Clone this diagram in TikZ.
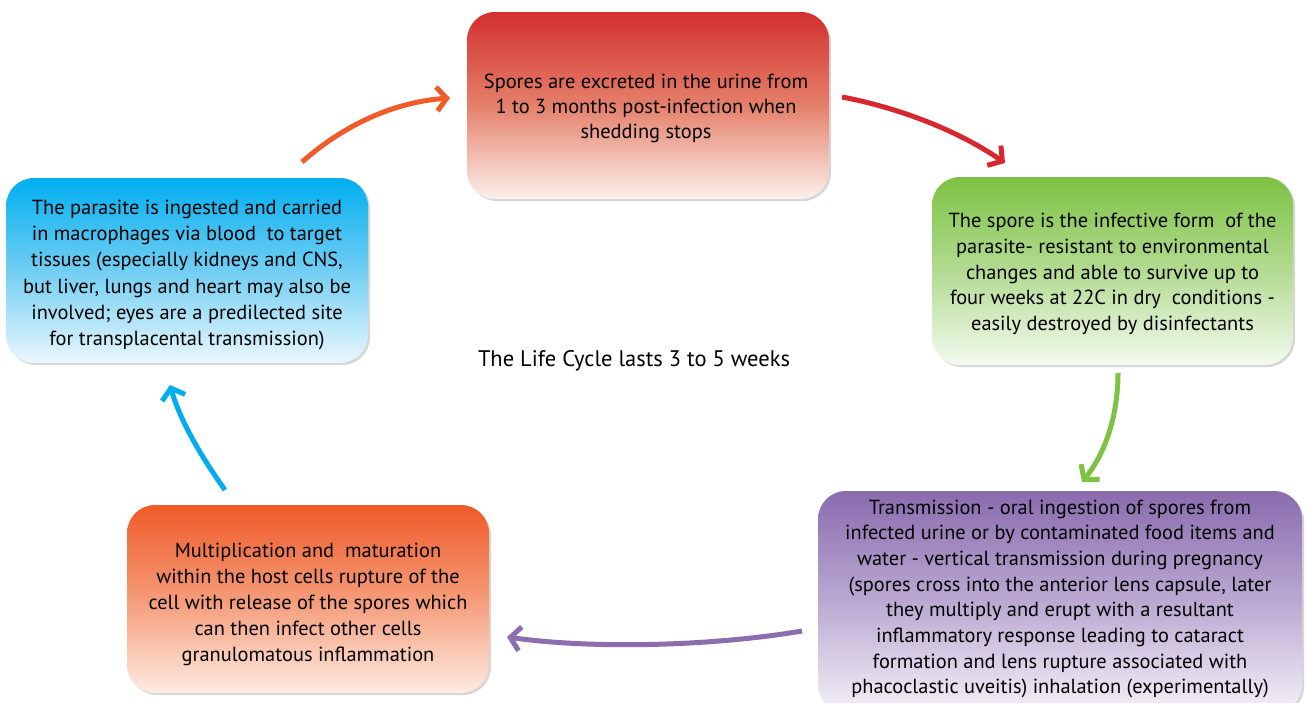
\documentclass[tikz,border=0pt]{standalone}
\usepackage{fontspec}
\setmainfont{PT Sans}
\usetikzlibrary{arrows.meta,shadows}
\definecolor{cRed}{HTML}{D2302D}
\definecolor{cRedM}{HTML}{E5806A}
\definecolor{cRedL}{HTML}{FCF1EC}
\definecolor{cGreen}{HTML}{7CC242}
\definecolor{cGreenM}{HTML}{B3DB92}
\definecolor{cGreenL}{HTML}{F4FAEF}
\definecolor{cPurple}{HTML}{8A6BAE}
\definecolor{cPurpleM}{HTML}{BBA9D2}
\definecolor{cPurpleL}{HTML}{F4F1F8}
\definecolor{cOrange}{HTML}{EF5A28}
\definecolor{cOrangeM}{HTML}{F59B78}
\definecolor{cOrangeL}{HTML}{FDEBE2}
\definecolor{cBlue}{HTML}{00AEEF}
\definecolor{cBlueM}{HTML}{71CEF3}
\definecolor{cBlueL}{HTML}{EAF7FD}
\definecolor{aRed}{HTML}{D7282F}
\definecolor{aGreen}{HTML}{7DC242}
\definecolor{aPurple}{HTML}{8C6DAE}
\definecolor{aBlue}{HTML}{00AEEF}
\definecolor{aOrange}{HTML}{F15A29}
\tikzset{
  stagebox/.style={rounded corners=28pt, inner sep=0pt,
    drop shadow={shadow xshift=2pt, shadow yshift=-2pt, fill=black!35, opacity=0.45}},
  stagetext/.style={align=center, inner sep=0pt},
  cyclearrow/.style={line width=5pt, -{Straight Barb[length=10pt,width=24pt]}},
}
\begin{document}
\begin{tikzpicture}[x=1pt,y=-1pt]
\useasboundingbox (0,0) rectangle (1306,702);
\fill[white] (0,0) rectangle (1306,702);
% boxes
\node[stagebox, minimum width=362pt, minimum height=187pt,
  top color=cRed, bottom color=cRedL, middle color=cRedM] (red) at (648,105.5) {};
\node[stagetext, font=\fontsize{20.4}{25}\selectfont] (redt) at (646,108)
  {Spores are excreted in the urine from\\1 to 3 months post-infection when\\shedding stops};
\node[stagebox, minimum width=361pt, minimum height=188pt,
  top color=cGreen, bottom color=cGreenL, middle color=cGreenM] (green) at (1112.5,271) {};
\node[stagetext, font=\fontsize{20.4}{25.8}\selectfont] (greent) at (1112.5,274)
  {The spore is the infective form\ \ of the\\parasite- resistant to environmental\\changes and able to survive up to\\four weeks at 22C in dry\ \ conditions -\\easily destroyed by disinfectants};
\node[stagebox, minimum width=484pt, minimum height=222pt,
  top color=cPurple, bottom color=cPurpleL, middle color=cPurpleM] (purple) at (1060,602) {};
\node[stagetext, font=\fontsize{20.4}{25.7}\selectfont] (purplet) at (1060,599)
  {Transmission - oral ingestion of spores from\\infected urine or by contaminated food items and\\water - vertical transmission during pregnancy\\(spores cross into the anterior lens capsule, later\\they multiply and erupt with a resultant\\inflammatory response leading to cataract\\formation and lens rupture associated with\\phacoclastic uveitis) inhalation (experimentally)};
\node[stagebox, minimum width=362pt, minimum height=188pt,
  top color=cOrange, bottom color=cOrangeL, middle color=cOrangeM] (orange) at (308,599) {};
\node[stagetext, font=\fontsize{20.4}{26}\selectfont] (oranget) at (308,604)
  {Multiplication and\ \ maturation\\within the host cells rupture of the\\cell with release of the spores which\\can then infect other cells\\granulomatous inflammation};
\node[stagebox, minimum width=362pt, minimum height=185pt,
  top color=cBlue, bottom color=cBlueL, middle color=cBlueM] (blue) at (187,270.5) {};
\node[stagetext, font=\fontsize{20.4}{26.3}\selectfont] (bluet) at (187,275)
  {The parasite is ingested and carried\\in macrophages via blood\ \ to target\\tissues (especially kidneys and CNS,\\but liver, lungs and heart may also be\\involved; eyes are a predilected site\\for transplacental transmission)};
\node[font=\fontsize{22.5}{26}\selectfont, inner sep=0pt] (center) at (634,361) {The Life Cycle lasts 3 to 5 weeks};
% arrow end points
\coordinate (o1) at (302,162); \coordinate (o2) at (450,98);
\coordinate (r1) at (842,97);  \coordinate (r2) at (1005,163);
\coordinate (g1) at (1118,373); \coordinate (g2) at (1082,482);
\coordinate (p1) at (802,631); \coordinate (p2) at (507,637);
\coordinate (b1) at (225,490); \coordinate (b2) at (170,385);
\draw[cyclearrow, aOrange] (o1) .. controls (345,124) and (395,102) .. (o2);
\draw[cyclearrow, aRed] (r1) .. controls (885,105) and (950,125) .. (r2);
\draw[cyclearrow, aGreen] (g1) .. controls (1118,410) and (1108,450) .. (g2);
\draw[cyclearrow, aPurple] (p1) .. controls (720,645) and (600,650) .. (p2);
\draw[cyclearrow, aBlue] (b1) .. controls (200,455) and (180,420) .. (b2);
\end{tikzpicture}
\end{document}
